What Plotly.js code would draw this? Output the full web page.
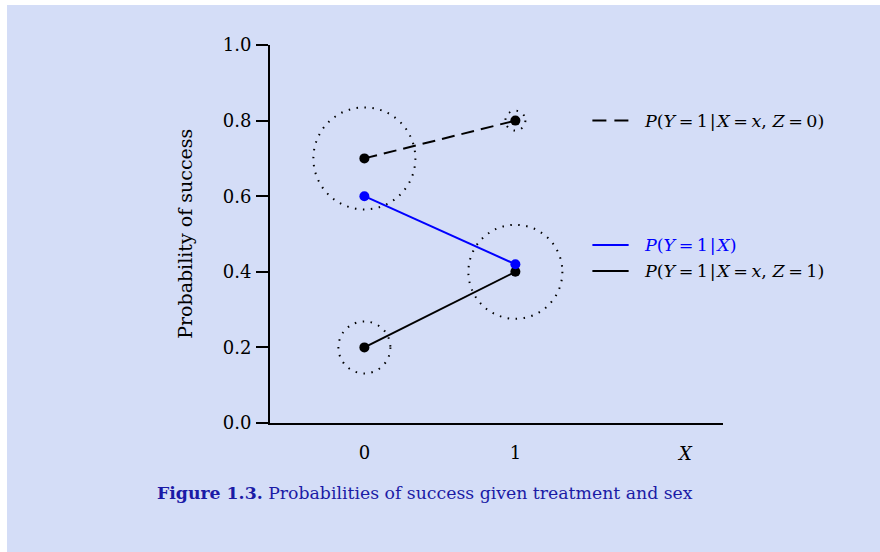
<!DOCTYPE html>
<html>
<head>
<meta charset="utf-8">
<script src="https://cdn.plot.ly/plotly-3.0.1.min.js"></script>
<style>
html,body{margin:0;padding:0;background:#d4ddf7;overflow:hidden;}
#wrap{position:relative;width:880px;height:552px;}
#edgeL{position:absolute;left:0;top:0;width:7px;height:600px;background:#ffffff;}
#edgeT{position:absolute;left:0;top:0;width:900px;height:5px;background:#ffffff;}
#chart{position:absolute;left:0;top:0;width:880px;height:552px;}
</style>
</head>
<body>
<div id="wrap"><div id="edgeL"></div><div id="edgeT"></div><div id="chart"></div></div>
<script>
// Data
const treatment = [0, 1];
const pSuccessZ0 = [0.7, 0.8];        // P(Y=1|X=x, Z=0)
const pSuccessMarginal = [0.6, 0.42]; // P(Y=1|X)
const pSuccessZ1 = [0.2, 0.4];        // P(Y=1|X=x, Z=1)
// group-size circles: centre x, centre y, radius (px)
const circleX = [0, 1, 0, 1];
const circleY = [0.7, 0.8, 0.2, 0.4];
const circleR = [51, 10, 26, 47];
const xTickVals = [0, 1];
const xTickText = ['0', '1'];
const yTickVals = [0, 0.2, 0.4, 0.6, 0.8, 1.0];
const yTickText = ['0.0', '0.2', '0.4', '0.6', '0.8', '1.0'];
const legendY = [0.8, 0.471, 0.402];
const T = '\u2009', H = '\u200A';
const legendText = [
  '<i>P</i>(<i>Y</i>' + T + '=' + T + '1' + H + '|' + H + '<i>X</i>' + T + '=' + T + '<i>x</i>, <i>Z</i>' + T + '=' + T + '0)',
  '<i>P</i>(<i>Y</i>' + T + '=' + T + '1' + H + '|' + H + '<i>X</i>)',
  '<i>P</i>(<i>Y</i>' + T + '=' + T + '1' + H + '|' + H + '<i>X</i>' + T + '=' + T + '<i>x</i>, <i>Z</i>' + T + '=' + T + '1)'
];
const legendColor = ['#000000', '#0000ff', '#000000'];
const legendDash = ['14px,8px', 'solid', 'solid'];

const FONT = 'DejaVu Serif, serif';

const traces = [
  {x: treatment, y: pSuccessZ0, mode: 'lines+markers', line: {color: '#000', width: 2, dash: '13px,7px'}, marker: {color: '#000', size: 10}, hoverinfo: 'skip'},
  {x: treatment, y: pSuccessZ1, mode: 'lines+markers', line: {color: '#000', width: 2}, marker: {color: '#000', size: 10}, hoverinfo: 'skip'},
  {x: treatment, y: pSuccessMarginal, mode: 'lines+markers', line: {color: '#0000ff', width: 2}, marker: {color: '#0000ff', size: 10}, hoverinfo: 'skip'}
];

const shapes = [];
for (let i = 0; i < circleX.length; i++) {
  shapes.push({type: 'circle', xref: 'x', yref: 'y', xsizemode: 'pixel', ysizemode: 'pixel',
    xanchor: circleX[i], yanchor: circleY[i], x0: -circleR[i], x1: circleR[i], y0: -circleR[i], y1: circleR[i],
    line: {color: '#000', width: 2, dash: '1.5px,6.5px'}, layer: 'below'});
}
const annotations = [];
for (let i = 0; i < legendY.length; i++) {
  shapes.push({type: 'line', xref: 'x', yref: 'y', x0: 1.51, x1: 1.75, y0: legendY[i], y1: legendY[i],
    line: {color: legendColor[i], width: 2, dash: legendDash[i]}});
  annotations.push({xref: 'x', yref: 'y', x: 1.84, y: legendY[i], xanchor: 'left', yanchor: 'middle',
    text: legendText[i], showarrow: false, font: {family: FONT, size: 17.5, color: legendColor[i]}});
}
annotations.push({xref: 'x', yref: 'paper', x: 2.125, y: -0.082, xanchor: 'center', yanchor: 'middle',
  text: '<i>X</i>', showarrow: false, font: {family: FONT, size: 18, color: '#000'}});
annotations.push({xref: 'paper', yref: 'paper', x: -0.188, y: 0.5, xanchor: 'center', yanchor: 'middle', textangle: -90,
  text: 'Probability of success', showarrow: false, font: {family: FONT, size: 19, color: '#000'}});
annotations.push({xref: 'paper', yref: 'paper', x: 0.342, y: -0.185, xanchor: 'center', yanchor: 'middle',
  text: '<b>Figure 1.3.</b> Probabilities of success given treatment and sex', showarrow: false,
  font: {family: FONT, size: 17.3, color: '#1b1ba6'}});

const layout = {
  width: 880, height: 552,
  margin: {l: 270, r: 157, t: 45, b: 129, pad: 0},
  paper_bgcolor: 'rgba(0,0,0,0)', plot_bgcolor: 'rgba(0,0,0,0)',
  showlegend: false,
  font: {family: FONT, size: 18, color: '#000'},
  xaxis: {range: [-0.625, 2.375], tickvals: xTickVals, ticktext: xTickText, ticks: '', showgrid: false, zeroline: false,
    showline: true, linecolor: '#000', linewidth: 2, ticklabelstandoff: 12, fixedrange: true},
  yaxis: {range: [0, 1], tickvals: yTickVals, ticktext: yTickText, ticks: 'outside', ticklen: 12, tickwidth: 2, tickcolor: '#000',
    showgrid: false, zeroline: false, showline: true, linecolor: '#000', linewidth: 2, ticklabelstandoff: 1, fixedrange: true},
  shapes: shapes,
  annotations: annotations
};
Plotly.newPlot('chart', traces, layout, {staticPlot: true, displayModeBar: false});
</script>
</body>
</html>
